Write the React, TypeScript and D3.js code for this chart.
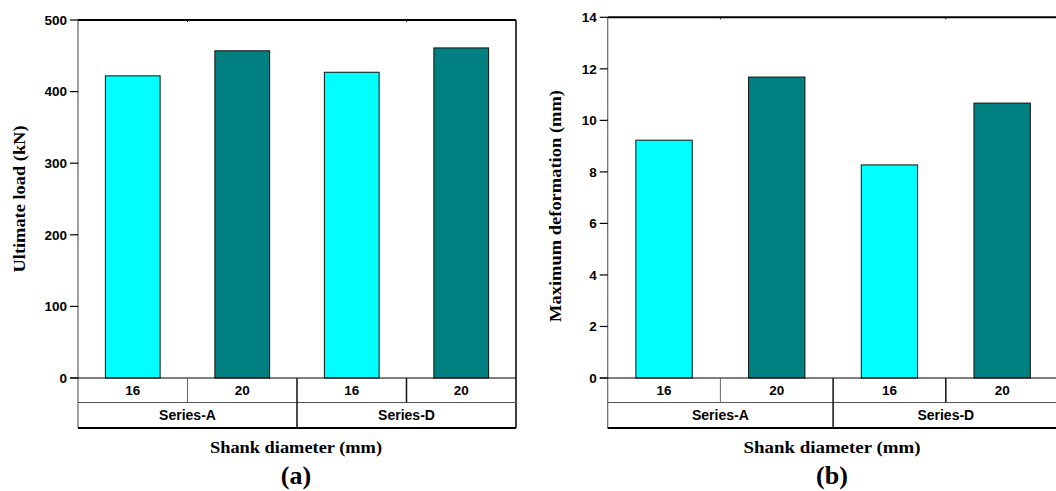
import * as d3 from 'd3';
import React from 'react';

const diameters = ['16', '20', '16', '20'];
const seriesNames = ['Series-A', 'Series-D'];
const ultimateLoad = [422, 457, 427, 461];
const maxDeformation = [9.23, 11.68, 8.27, 10.67];
const loadTicks = [0, 100, 200, 300, 400, 500];
const deformTicks = [0, 2, 4, 6, 8, 10, 12, 14];
const barColors = ['#00FFFF', '#008080', '#00FFFF', '#008080'];

type PanelProps = {
  left: number;
  right: number;
  top: number;
  bottom: number;
  values: number[];
  ticks: number[];
  yMax: number;
  yLabel: string;
  yLabelX: number;
  yLabelY: number;
  yLabelLen: number;
  titleX: number;
  titleLen: number;
  tag: string;
};

const Panel: React.FC<PanelProps> = (p) => {
  const { left, right, top, bottom, values, ticks, yMax, tag } = p;
  const x = d3.scaleBand<number>().domain(d3.range(values.length)).range([left, right]);
  const y = d3.scaleLinear().domain([0, yMax]).range([bottom, top]);
  const row1 = bottom + 24.5;
  const row2 = bottom + 50;
  const barW = x.bandwidth() * 0.5;
  const tickFont = { fontFamily: 'Liberation Sans, Arial, sans-serif', fontWeight: 'bold' as const, fontSize: 13.5 };
  const serif = { fontFamily: 'Liberation Serif, Times New Roman, serif', fontWeight: 'bold' as const };

  return (
    <g>
      {values.map((v, i) => (
        <rect key={i} x={x(i)! + (x.bandwidth() - barW) / 2} y={y(v)} width={barW} height={y(0) - y(v)}
          fill={barColors[i]} stroke="#111" strokeWidth={1} />
      ))}
      {/* frame */}
      <line x1={left} x2={left} y1={top} y2={row2} stroke="#666" strokeWidth={1.2} />
      <line x1={left} x2={right} y1={top} y2={top} stroke="#000" strokeWidth={2} />
      <line x1={right} x2={right} y1={top} y2={row2} stroke="#000" strokeWidth={1.5} />
      {[1, 3].map(i => (
        <line key={i} x1={x(i)!} x2={x(i)!} y1={top} y2={top + 2} stroke="#000" strokeWidth={1} />
      ))}
      {/* y axis */}
      {ticks.map(t => (
        <g key={t}>
          <line x1={left - 8} x2={left} y1={y(t)} y2={y(t)} stroke="#000" strokeWidth={1.2} />
          <text x={left - 11} y={y(t)} dy="0.36em" textAnchor="end" {...tickFont}>{t}</text>
        </g>
      ))}
      <line x1={left - 8} x2={right} y1={bottom} y2={bottom} stroke="#000" strokeWidth={1.2} />
      {/* category table */}
      <line x1={left} x2={right} y1={row1} y2={row1} stroke="#555" strokeWidth={1} />
      <line x1={left} x2={right} y1={row2} y2={row2} stroke="#000" strokeWidth={1.8} />
      {[1, 2, 3].map(i => (
        <line key={i} x1={x(i)!} x2={x(i)!} y1={bottom} y2={i === 2 ? row2 : row1}
          stroke={i === 1 ? '#666' : '#111'} strokeWidth={i === 1 ? 1 : 1.5} />
      ))}
      {diameters.map((d, i) => (
        <text key={i} x={x(i)! + x.bandwidth() / 2} y={(bottom + row1) / 2} dy="0.36em" textAnchor="middle" {...tickFont}>{d}</text>
      ))}
      {seriesNames.map((s, i) => (
        <text key={s} x={x(i * 2)! + x.bandwidth()} y={(row1 + row2) / 2} dy="0.36em" textAnchor="middle"
          {...tickFont} fontSize={14}>{s}</text>
      ))}
      {/* titles */}
      <text x={p.titleX} y={453} textAnchor="middle" {...serif} fontSize={17.5}
        textLength={p.titleLen} lengthAdjust="spacingAndGlyphs">Shank diameter (mm)</text>
      <text x={p.titleX} y={484} textAnchor="middle" {...serif} fontSize={26}>{tag}</text>
      <text transform={`translate(${p.yLabelX},${p.yLabelY}) rotate(-90)`} textAnchor="middle" dy="0.35em"
        {...serif} fontSize={17} textLength={p.yLabelLen} lengthAdjust="spacingAndGlyphs">{p.yLabel}</text>
    </g>
  );
};

export default function App() {
  return (
    <div>
      <style>{'body{margin:0}'}</style>
      <svg width={1056} height={491} style={{ display: 'block', background: '#fff' }}>
        <Panel left={78} right={516} top={20} bottom={378} values={ultimateLoad} ticks={loadTicks} yMax={500}
          yLabel="Ultimate load (kN)" yLabelX={19} yLabelY={199} yLabelLen={147}
          titleX={296} titleLen={172} tag="(a)" />
        <Panel left={607.7} right={1058.5} top={17.3} bottom={378} values={maxDeformation} ticks={deformTicks} yMax={14}
          yLabel="Maximum deformation (mm)" yLabelX={555} yLabelY={206} yLabelLen={232}
          titleX={832} titleLen={177} tag="(b)" />
      </svg>
    </div>
  );
}
